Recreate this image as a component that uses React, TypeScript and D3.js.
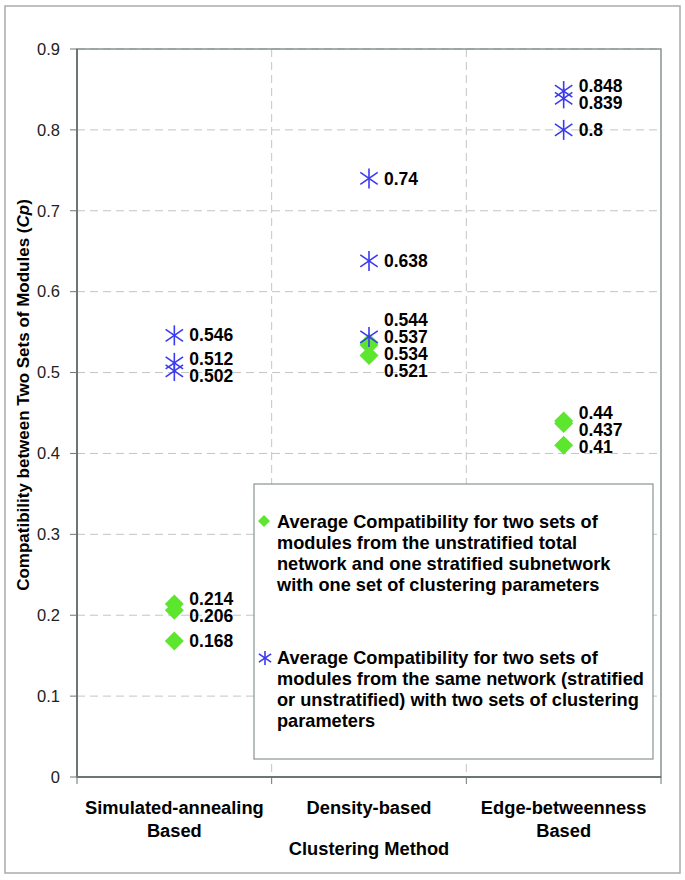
import React from 'react';
import * as d3 from 'd3';

// chart values
const categories = ['Simulated-annealing Based', 'Density-based', 'Edge-betweenness Based'];
const categoryLines = [['Simulated-annealing', 'Based'], ['Density-based'], ['Edge-betweenness', 'Based']];
const stratifiedValues = [[0.214, 0.206, 0.168], [0.537, 0.534, 0.521], [0.44, 0.437, 0.41]];
const sameNetworkValues = [[0.546, 0.512, 0.502], [0.74, 0.638, 0.544], [0.848, 0.839, 0.8]];
const yTickValues = [0, 0.1, 0.2, 0.3, 0.4, 0.5, 0.6, 0.7, 0.8, 0.9];
const legendGreen = [
  'Average Compatibility for two sets of',
  'modules from the unstratified total',
  'network and one stratified subnetwork',
  'with one set of clustering parameters',
];
const legendBlue = [
  'Average Compatibility for two sets of',
  'modules from the same network (stratified',
  'or unstratified) with two sets of clustering',
  'parameters',
];

const W = 685;
const H = 880;
const margin = { top: 49, right: 24, bottom: 103, left: 77 };
const FONT = '"Liberation Sans", Arial, sans-serif';
const GREEN = '#5ce62e';
const BLUE = '#3a3af0';

const Diamond = ({ x, y, r = 9.5 }) => (
  <path d={`M${x},${y - r}L${x + r},${y}L${x},${y + r}L${x - r},${y}Z`} fill={GREEN} />
);

const Asterisk = ({ x, y, r = 10 }) => {
  const dx = r * 0.87;
  const dy = r * 0.6;
  return (
    <g stroke={BLUE} strokeWidth={1.6}>
      <line x1={x} y1={y - r} x2={x} y2={y + r} />
      <line x1={x - dx} y1={y - dy} x2={x + dx} y2={y + dy} />
      <line x1={x - dx} y1={y + dy} x2={x + dx} y2={y - dy} />
    </g>
  );
};

export default function App() {
  const innerW = W - margin.left - margin.right;
  const innerH = H - margin.top - margin.bottom;

  const x = d3.scaleBand().domain(categories).range([margin.left, margin.left + innerW]);
  const y = d3.scaleLinear().domain([0, 0.9]).range([margin.top + innerH, margin.top]);

  // point labels, spread apart so they don't overlap (like the hand-moved ones)
  const labels = categories.flatMap((c, ci) => {
    const items = [
      ...stratifiedValues[ci].map((v) => ({ v, cy: y(v), ly: y(v) })),
      ...sameNetworkValues[ci].map((v) => ({ v, cy: y(v), ly: y(v) })),
    ].sort((a, b) => a.cy - b.cy);
    const gap = 17;
    for (let it = 0; it < 100; it++) {
      for (let i = 1; i < items.length; i++) {
        const d = items[i].ly - items[i - 1].ly;
        if (d < gap) {
          const push = (gap - d) / 2;
          items[i].ly += push;
          items[i - 1].ly -= push;
        }
      }
    }
    return items.map((d) => ({ ...d, cx: x(c) + x.bandwidth() / 2 }));
  });

  const bottom = margin.top + innerH;
  const right = margin.left + innerW;
  const boundaries = [margin.left, ...categories.map((c) => x(c) + x.bandwidth())];

  return (
    <svg width={W} height={H} style={{ position: 'absolute', left: 0, top: 0 }} fontFamily={FONT}>
      <rect x={0} y={0} width={W} height={H} fill="#fff" />
      <rect x={5} y={6} width={675} height={867} fill="none" stroke="#a8acac" strokeWidth={1.5} />

      {/* grid */}
      {yTickValues.slice(1).map((t) => (
        <line key={t} x1={margin.left} x2={right} y1={y(t)} y2={y(t)} stroke="#c4c4c4" strokeDasharray="8,5" />
      ))}
      {boundaries.slice(1, -1).map((b) => (
        <line key={b} x1={b} x2={b} y1={margin.top} y2={bottom} stroke="#c4c4c4" strokeDasharray="8,5" />
      ))}

      {/* plot frame */}
      <rect x={margin.left} y={margin.top} width={innerW} height={innerH} fill="none" stroke="#7f8b8b" strokeWidth={1.4} />
      <line x1={margin.left} x2={margin.left} y1={margin.top} y2={bottom} stroke="#6b7777" strokeWidth={2} />
      <line x1={margin.left} x2={right} y1={bottom} y2={bottom} stroke="#6b7777" strokeWidth={2} />

      {/* y axis */}
      {yTickValues.map((t) => (
        <g key={t}>
          <line x1={margin.left - 7} x2={margin.left} y1={y(t)} y2={y(t)} stroke="#6b7777" />
          <text x={margin.left - 17} y={y(t)} dy="0.35em" textAnchor="end" fontSize={16.5} fill="#222">
            {t === 0 ? '0' : d3.format('.1f')(t)}
          </text>
        </g>
      ))}
      <text
        transform={`translate(23,${(margin.top + bottom) / 2 - 18}) rotate(-90)`}
        textAnchor="middle"
        fontSize={17}
        fontWeight="bold"
        dy="0.35em"
      >
        Compatibility between Two Sets of Modules (<tspan fontStyle="italic">Cp</tspan>)
      </text>

      {/* x axis */}
      {boundaries.map((b) => (
        <line key={b} x1={b} x2={b} y1={bottom} y2={bottom + 7} stroke="#6b7777" />
      ))}
      {categories.map((c, ci) => (
        <text key={c} x={x(c) + x.bandwidth() / 2} textAnchor="middle" fontSize={18.3} fontWeight="bold">
          {categoryLines[ci].map((l, li) => (
            <tspan key={li} x={x(c) + x.bandwidth() / 2} y={bottom + 37 + li * 23}>
              {l}
            </tspan>
          ))}
        </text>
      ))}
      <text x={margin.left + innerW / 2} y={bottom + 78} textAnchor="middle" fontSize={18.3} fontWeight="bold">
        Clustering Method
      </text>

      {/* markers */}
      {categories.map((c, ci) =>
        stratifiedValues[ci].map((v, i) => <Diamond key={`g${ci}${i}`} x={x(c) + x.bandwidth() / 2} y={y(v)} />)
      )}
      {categories.map((c, ci) =>
        sameNetworkValues[ci].map((v, i) => <Asterisk key={`b${ci}${i}`} x={x(c) + x.bandwidth() / 2} y={y(v)} />)
      )}
      {labels.map((d, i) => (
        <text key={i} x={d.cx + 15} y={d.ly} dy="0.35em" fontSize={17.5} fontWeight="bold">
          {String(d.v)}
        </text>
      ))}

      {/* legend */}
      <rect x={254} y={484} width={399} height={275} fill="#fff" stroke="#8a9494" strokeWidth={1.2} />
      <Diamond x={264} y={521} r={6} />
      {legendGreen.map((l, i) => (
        <text key={l} x={277} y={522 + i * 20.8} dy="0.35em" fontSize={18.2} fontWeight="bold">
          {l}
        </text>
      ))}
      <Asterisk x={265} y={658} r={7} />
      {legendBlue.map((l, i) => (
        <text key={l} x={277} y={658 + i * 20.8} dy="0.35em" fontSize={18.2} fontWeight="bold">
          {l}
        </text>
      ))}
    </svg>
  );
}
